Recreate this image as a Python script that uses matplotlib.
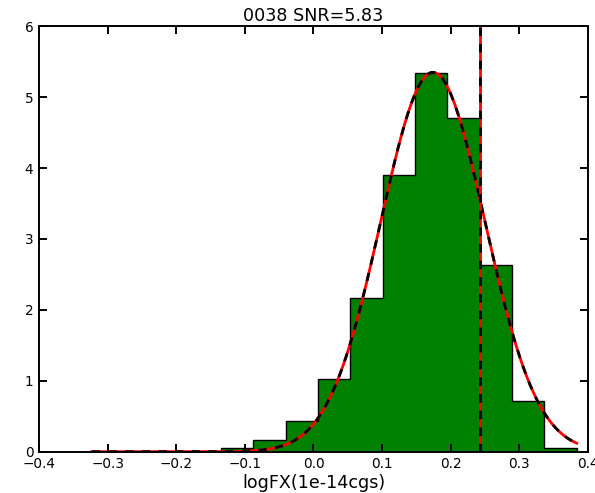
import numpy as np
import matplotlib
matplotlib.use("Agg")
import matplotlib.pyplot as plt

# histogram of logFX samples (normalised), 15 bins over the sample range
bin_lo, bin_hi, n_bins = -0.323, 0.3835, 15
heights = [0.0, 0.0, 0.0, 0.0, 0.045, 0.16, 0.43, 1.02, 2.17,
           3.90, 5.34, 4.71, 2.63, 0.72, 0.055]

# gaussian fit to the histogram
fit_amp, fit_mu, fit_sigma = 5.35, 0.174, 0.076

# measured value
obs_logfx = 0.243

title = "0038 SNR=5.83"
xlabel = "logFX(1e-14cgs)"

edges = np.linspace(bin_lo, bin_hi, n_bins + 1)
centers = 0.5 * (edges[:-1] + edges[1:])

fig = plt.figure(figsize=(5.95, 4.93), dpi=100)
ax = fig.add_axes([0.0655, 0.0838, 0.9227, 0.8629])

ax.hist(centers, bins=edges, weights=heights, histtype="stepfilled",
        facecolor="green", edgecolor="black", linewidth=1.0)

xs = np.linspace(bin_lo, bin_hi, 300)
ys = fit_amp * np.exp(-(xs - fit_mu) ** 2 / (2 * fit_sigma ** 2))
ax.plot(xs, ys, color="red", lw=2)
ax.plot(xs, ys, color="black", lw=2, linestyle=(0, (3, 3)))

ax.axvline(obs_logfx, color="red", lw=2)
ax.axvline(obs_logfx, color="black", lw=2, linestyle=(0, (3, 3)))

ax.set_xlim(-0.4, 0.4)
ax.set_ylim(0, 6)
ax.set_xticks(np.arange(-0.4, 0.41, 0.1))
ax.set_yticks(np.arange(0, 7, 1))
ax.tick_params(direction="in", top=True, right=True, length=6, width=1.4,
               labelsize=9.8, pad=4)
for sp in ax.spines.values():
    sp.set_linewidth(1.4)

ax.set_title(title, fontsize=12.6, pad=4)
ax.set_xlabel(xlabel, fontsize=12.6, labelpad=2)

fig.savefig("out.png", dpi=100, facecolor="white")
